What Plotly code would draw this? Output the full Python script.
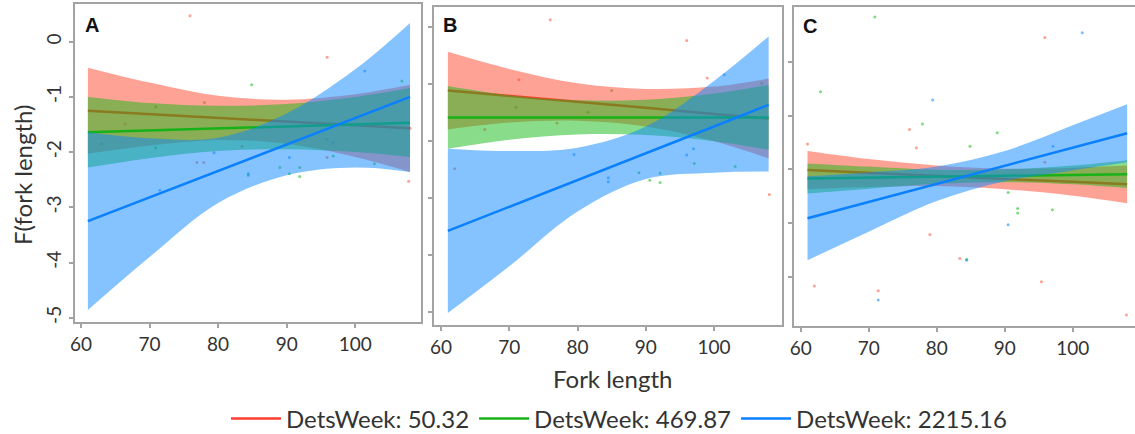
import plotly.graph_objects as go

# ---------------- data ----------------
X_GRID = [61, 70, 80, 90, 100, 108]
SERIES = ["DetsWeek: 50.32", "DetsWeek: 469.87", "DetsWeek: 2215.16"]

# Panel A
A_red_fit = [-1.25, -1.31, -1.38, -1.45, -1.52, -1.57]
A_red_up = [-0.47, -0.74, -0.98, -1.05, -0.95, -0.78]
A_red_lo = [-2.03, -1.88, -1.78, -1.85, -2.09, -2.36]
A_green_fit = [-1.64, -1.61, -1.57, -1.54, -1.50, -1.47]
A_green_up = [-1.00, -1.11, -1.16, -1.13, -1.00, -0.84]
A_green_lo = [-2.28, -2.11, -1.98, -1.95, -2.00, -2.09]
A_blue_fit = [-3.25, -2.82, -2.34, -1.86, -1.38, -1.00]
A_blue_up = [-1.64, -1.75, -1.74, -1.30, -0.50, 0.34]
A_blue_lo = [-4.86, -3.90, -2.92, -2.42, -2.28, -2.36]

# Panel B
B_red_fit = [-1.12, -1.21, -1.32, -1.42, -1.53, -1.61]
B_red_up = [-0.44, -0.74, -0.99, -1.09, -1.05, -0.91]
B_red_lo = [-1.80, -1.68, -1.65, -1.75, -2.01, -2.31]
B_green_fit = [-1.59, -1.59, -1.59, -1.59, -1.59, -1.59]
B_green_up = [-1.04, -1.20, -1.29, -1.28, -1.17, -1.02]
B_green_lo = [-2.14, -1.98, -1.89, -1.90, -2.01, -2.16]
B_blue_fit = [-3.58, -3.16, -2.69, -2.22, -1.75, -1.37]
B_blue_up = [-2.14, -2.18, -2.12, -1.75, -0.95, -0.17]
B_blue_lo = [-5.02, -4.20, -3.24, -2.67, -2.56, -2.54]

# Panel C
C_red_fit = [-2.015, -2.07, -2.12, -2.18, -2.23, -2.28]
C_red_up = [-1.66, -1.81, -1.93, -1.99, -1.97, -1.93]
C_red_lo = [-2.37, -2.33, -2.31, -2.37, -2.49, -2.63]
C_green_fit = [-2.17, -2.155, -2.14, -2.12, -2.105, -2.09]
C_green_up = [-1.89, -1.95, -2.01, -2.00, -1.93, -1.83]
C_green_lo = [-2.45, -2.36, -2.27, -2.24, -2.28, -2.35]
C_blue_fit = [-2.91, -2.61, -2.27, -1.94, -1.60, -1.33]
C_blue_up = [-2.13, -2.06, -1.95, -1.66, -1.18, -0.79]
C_blue_lo = [-3.69, -3.16, -2.59, -2.22, -2.02, -1.87]

# partial residual points (x, y)
A_red_px = [75.9, 95.9, 66.4, 76.9, 77.9, 95.9, 108.0, 107.8, 83.5]
A_red_py = [0.47, -0.28, -1.49, -2.19, -2.19, -2.10, -1.57, -2.53, -1.90]
A_green_px = [84.9, 78.0, 106.8, 70.9, 63.0, 70.9, 84.4, 89.0, 90.4, 91.9, 91.9, 96.8, 102.8]
A_green_py = [-0.78, -1.10, -0.71, -1.18, -1.85, -1.92, -2.42, -2.28, -2.39, -2.28, -2.44, -2.07, -2.21]
A_blue_px = [101.4, 79.4, 84.4, 90.4, 95.9, 96.8, 71.5]
A_blue_py = [-0.53, -2.01, -2.39, -2.10, -1.77, -1.82, -2.69]

B_red_px = [76.0, 96.0, 71.4, 99.0, 66.4, 62.0, 108.1, 77.0]
B_red_py = [0.12, -0.24, -0.93, -0.90, -1.80, -2.49, -2.94, -1.69]
B_green_px = [85.0, 107.0, 71.0, 81.5, 97.1, 103.1, 89.0, 92.1, 90.6, 92.1]
B_green_py = [-1.12, -0.99, -1.41, -1.50, -2.40, -2.45, -2.56, -2.57, -2.69, -2.73]
B_blue_px = [101.5, 79.5, 96.0, 97.0, 84.5, 84.5]
B_blue_py = [-0.84, -2.24, -2.25, -2.14, -2.65, -2.72]

C_red_px = [95.9, 76.0, 77.0, 61.0, 95.9, 79.0, 83.4, 95.4, 62.0, 71.4, 107.9]
C_red_py = [0.45, -1.26, -1.60, -1.53, -1.87, -3.21, -3.66, -4.09, -4.17, -4.26, -4.71]
C_green_px = [70.9, 62.9, 77.9, 84.9, 88.9, 90.5, 91.9, 91.9, 97.0, 84.4]
C_green_py = [0.83, -0.56, -1.16, -1.57, -1.32, -2.43, -2.73, -2.81, -2.75, -3.67]
C_blue_px = [101.4, 79.4, 97.1, 90.5, 84.4, 71.4]
C_blue_py = [0.54, -0.71, -1.57, -3.03, -3.69, -4.43]

X_TICKS = [60, 70, 80, 90, 100]
Y_TICKS_A = [0, -1, -2, -3, -4, -5]
Y_TICKS_B = [0, -1, -2, -3, -4, -5]
Y_TICKS_C = [0, -1, -2, -3, -4]

# ---------------- style ----------------
LINE_COL = ["rgb(255,61,46)", "rgb(24,178,24)", "rgb(10,128,255)"]
BAND_COL = ["rgba(255,70,45,0.5)", "rgba(20,185,20,0.5)", "rgba(10,135,255,0.5)"]
DOT_COL = ["rgba(255,80,60,0.55)", "rgba(20,185,20,0.55)", "rgba(10,135,255,0.55)"]
FONT = "Lato"
FRAME = "#a3a3a3"

fig = go.Figure()

panels = [
    ("x", "y", [(A_red_fit, A_red_up, A_red_lo), (A_green_fit, A_green_up, A_green_lo), (A_blue_fit, A_blue_up, A_blue_lo)],
     [(A_red_px, A_red_py), (A_green_px, A_green_py), (A_blue_px, A_blue_py)]),
    ("x2", "y2", [(B_red_fit, B_red_up, B_red_lo), (B_green_fit, B_green_up, B_green_lo), (B_blue_fit, B_blue_up, B_blue_lo)],
     [(B_red_px, B_red_py), (B_green_px, B_green_py), (B_blue_px, B_blue_py)]),
    ("x3", "y3", [(C_red_fit, C_red_up, C_red_lo), (C_green_fit, C_green_up, C_green_lo), (C_blue_fit, C_blue_up, C_blue_lo)],
     [(C_red_px, C_red_py), (C_green_px, C_green_py), (C_blue_px, C_blue_py)]),
]

for pi, (xa, ya, series, pts) in enumerate(panels):
    for si, (px, py) in enumerate(pts):
        fig.add_trace(go.Scatter(x=px, y=py, mode="markers", xaxis=xa, yaxis=ya,
                                 marker=dict(size=3, color=DOT_COL[si]), showlegend=False,
                                 hoverinfo="skip"))
    for si, (fit, up, lo) in enumerate(series):
        fig.add_trace(go.Scatter(x=X_GRID, y=lo, mode="lines", xaxis=xa, yaxis=ya,
                                 line=dict(width=0, shape="spline"), showlegend=False,
                                 hoverinfo="skip"))
        fig.add_trace(go.Scatter(x=X_GRID, y=up, mode="lines", xaxis=xa, yaxis=ya,
                                 line=dict(width=0, shape="spline"), fill="tonexty",
                                 fillcolor=BAND_COL[si], showlegend=False, hoverinfo="skip"))
        fig.add_trace(go.Scatter(x=X_GRID, y=fit, mode="lines", xaxis=xa, yaxis=ya,
                                 line=dict(width=2.5, color=LINE_COL[si]),
                                 name=SERIES[si], showlegend=(pi == 0)))

W, H = 1135, 434

def dom_x(a, b):
    return [a / W, b / W]

def dom_y(top, bot):
    return [1 - bot / H, 1 - top / H]

xcommon = dict(showgrid=False, zeroline=False, showline=True, linecolor=FRAME, linewidth=2,
               ticks="outside", ticklen=4, tickcolor=FRAME, tickwidth=1.5,
               tickvals=X_TICKS, tickfont=dict(family=FONT, size=19, color="#333"))
ycommon = dict(showgrid=False, zeroline=False, showline=True, linecolor=FRAME, linewidth=2,
               ticks="outside", ticklen=4, tickcolor=FRAME, tickwidth=1.5)

fig.update_layout(
    width=W, height=H, margin=dict(l=0, r=0, t=0, b=0, autoexpand=False),
    plot_bgcolor="white", paper_bgcolor="white",
    font=dict(family=FONT, color="#333"),
    xaxis=dict(domain=dom_x(75, 421), range=[59.12, 109.6], mirror=True, anchor="y", **xcommon),
    yaxis=dict(domain=dom_y(4, 322), range=[-5.078, 0.683], mirror=True, anchor="x",
               tickvals=Y_TICKS_A, ticktext=[str(v) for v in Y_TICKS_A],
               tickangle=-90, tickfont=dict(family=FONT, size=19, color="#333"), **ycommon),
    xaxis2=dict(domain=dom_x(434, 782), range=[58.97, 109.96], mirror=True, anchor="y2", **xcommon),
    yaxis2=dict(domain=dom_y(6.7, 325), range=[-5.23, 0.351], mirror=True, anchor="x2",
                tickvals=Y_TICKS_B, showticklabels=False, **ycommon),
    xaxis3=dict(domain=dom_x(794, 1135), range=[59.01, 109.16], mirror=True, anchor="y3", **xcommon),
    yaxis3=dict(domain=dom_y(6.7, 326), range=[-4.913, 1.023], mirror=False, anchor="x3",
                tickvals=Y_TICKS_C, showticklabels=False, **ycommon),
    legend=dict(orientation="h", x=226 / W, xanchor="left", y=1 - 419 / H, yanchor="middle",
                traceorder="normal", itemwidth=50,
                font=dict(family=FONT, size=24, color="#333"), bgcolor="rgba(0,0,0,0)"),
    showlegend=True,
)

fig.add_annotation(text="Fork length", x=612 / W, y=1 - 378 / H, xref="paper", yref="paper",
                   showarrow=False, font=dict(family=FONT, size=24, color="#333"),
                   xanchor="center", yanchor="middle")
fig.add_annotation(text="F(fork length)", x=22 / W, y=1 - 175 / H, xref="paper", yref="paper",
                   showarrow=False, textangle=-90, font=dict(family=FONT, size=24, color="#333"),
                   xanchor="center", yanchor="middle")
for lab, (lx, ly) in zip(["A", "B", "C"], [(91.7, 25), (450, 25), (810, 26)]):
    fig.add_annotation(text="<b>%s</b>" % lab, x=lx / W, y=1 - ly / H, xref="paper", yref="paper",
                       showarrow=False, font=dict(family="Liberation Sans", size=20, color="#111"),
                       xanchor="center", yanchor="middle")

fig.write_html("out.html", config={"displayModeBar": False},
               post_script="document.body.style.margin='0';document.body.style.overflow='hidden';")
